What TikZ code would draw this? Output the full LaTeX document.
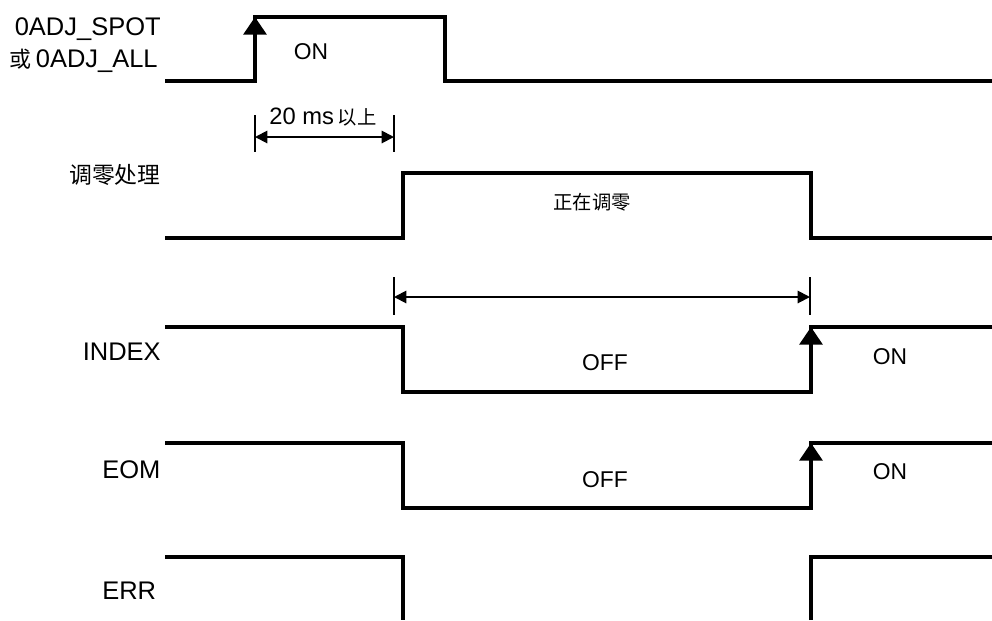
\documentclass[tikz,border=0pt]{standalone}
\usepackage{fontspec}
\setmainfont{Liberation Sans}
\newfontfamily\cjk{Noto Sans CJK SC}
\usetikzlibrary{arrows.meta}

\begin{document}
\begin{tikzpicture}[
    x=0.02cm,
    y=-0.02cm,
    sig/.style={
        line width=1.9pt,
        line join=miter
    },
    riseedge/.style={
        line width=1.9pt,
        -{Triangle[width=13pt,length=10pt]}
    },
    dimline/.style={
        line width=1.1pt,
        {Triangle[width=7pt,length=7pt]}-{Triangle[width=7pt,length=7pt]}
    },
    dimtick/.style={line width=1.1pt},
    lbl/.style={
        inner sep=0pt,
        font=\fontsize{14.5}{16}\selectfont
    },
    statelbl/.style={
        inner sep=0pt,
        font=\fontsize{13}{15}\selectfont
    }
]
\useasboundingbox (0,0) rectangle (992,620);

% signal names
\node[lbl, anchor=base east] (spot) at (161,35) {0ADJ\_SPOT};
\node[lbl, anchor=base east] (all) at (158,67)
{{\cjk\fontsize{12.5}{14}\selectfont 或}\,0ADJ\_ALL};
\node[lbl, anchor=east, font=\cjk\fontsize{13}{15}\selectfont] (proc) at (161,175) {调零处理};
\node[lbl, anchor=east] (index) at (161,352) {INDEX};
\node[lbl, anchor=west] (eom) at (102,470) {EOM};
\node[lbl, anchor=west] (err) at (102,591) {ERR};

% first row
\draw[sig] (165,81) -- (255,81) -- (255,17) -- (445,17) -- (445,81) -- (992,81);
\draw[riseedge] (255,50) -- (255,17);
\node[statelbl] (spoton) at (311,52) {ON};

% minimum width
\coordinate (w1a) at (255,137);
\coordinate (w1b) at (394,137);
\draw[dimtick] (255,115) -- (255,152);
\draw[dimtick] (394,115) -- (394,152);
\draw[dimline] (w1a) -- (w1b);
\node[inner sep=0pt, anchor=base] (wtxt) at (323,124)
{\fontsize{13.5}{15}\selectfont 20 ms\,{\cjk\fontsize{11}{13}\selectfont 以上}};

% second row
\draw[sig] (165,238) -- (403,238) -- (403,173) -- (811,173) -- (811,238) -- (992,238);
\node[inner sep=0pt, font=\cjk\fontsize{11}{13}\selectfont] (busy) at (592,202) {正在调零};

% processing time
\coordinate (w2a) at (394,297);
\coordinate (w2b) at (810,297);
\draw[dimtick] (394,277) -- (394,315);
\draw[dimtick] (810,277) -- (810,315);
\draw[dimline] (w2a) -- (w2b);

% INDEX
\draw[sig] (165,327) -- (403,327) -- (403,392) -- (811,392) -- (811,327) -- (992,327);
\draw[riseedge] (811,360) -- (811,327);
\node[statelbl] (indexoff) at (605,363) {OFF};
\node[statelbl] (indexon) at (890,357) {ON};

% EOM
\draw[sig] (165,443) -- (403,443) -- (403,508) -- (811,508) -- (811,443) -- (992,443);
\draw[riseedge] (811,476) -- (811,443);
\node[statelbl] (eomoff) at (605,480) {OFF};
\node[statelbl] (eomon) at (890,472) {ON};

% ERR
\draw[sig] (165,557) -- (403,557) -- (403,620);
\draw[sig] (811,620) -- (811,557) -- (992,557);

\end{tikzpicture}
\end{document}
